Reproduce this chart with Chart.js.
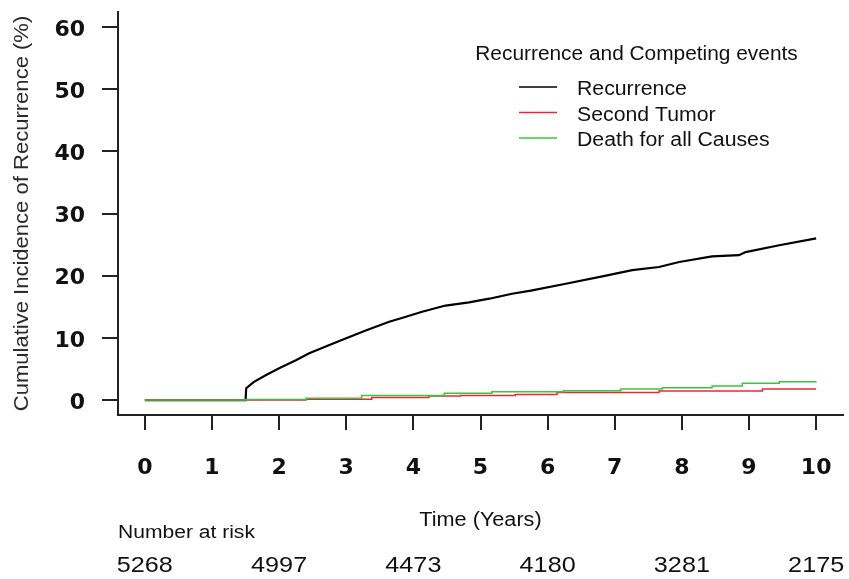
<!DOCTYPE html>
<html>
<head>
<meta charset="utf-8">
<script src="https://cdn.jsdelivr.net/npm/chart.js@4/dist/chart.umd.min.js"></script>
<style>
  html, body { margin: 0; padding: 0; background: #fff; }
  canvas { display: block; }
</style>
</head>
<body>
<canvas id="cif" width="849" height="579"></canvas>
<script>
// Cumulative incidence (%) by follow-up time (years)
const recurrenceTime  = [0, 1.5, 1.51, 1.62, 1.80, 2.00, 2.25, 2.44, 2.74, 2.99, 3.29, 3.64, 3.89, 4.13, 4.48, 4.83, 5.13, 5.47, 5.75, 6.27, 6.87, 7.26, 7.66, 7.96, 8.45, 8.85, 8.95, 9.45, 10.0];
const recurrenceValue = [0, 0, 1.9, 2.9, 4.0, 5.1, 6.4, 7.5, 8.8, 9.9, 11.2, 12.6, 13.4, 14.2, 15.2, 15.7, 16.3, 17.1, 17.6, 18.7, 20.0, 20.9, 21.4, 22.2, 23.1, 23.3, 23.8, 24.9, 26.0];

const secondTumorTime  = [0, 2.4, 3.38, 4.23, 4.7, 5.52, 6.14, 7.66, 9.2, 10.0];
const secondTumorValue = [0, 0.15, 0.4, 0.65, 0.75, 0.9, 1.2, 1.45, 1.8, 1.8];

const deathTime  = [0, 1.5, 2.4, 3.23, 4.46, 5.17, 6.24, 7.09, 7.71, 8.45, 8.9, 9.45, 10.0];
const deathValue = [0, 0.1, 0.3, 0.75, 1.1, 1.35, 1.5, 1.8, 2.0, 2.25, 2.7, 2.95, 3.0];

// Axis ticks
const xTicks = [0, 1, 2, 3, 4, 5, 6, 7, 8, 9, 10];
const yTicks = [0, 10, 20, 30, 40, 50, 60];

// Number at risk table
const riskTimes  = [0, 2, 4, 6, 8, 10];
const riskCounts = [5268, 4997, 4473, 4180, 3281, 2175];

const seriesNames = ['Recurrence', 'Second Tumor', 'Death for all Causes'];
const seriesColors = ['#000000', '#e8283a', '#3cc43c'];

const toPoints = (t, v) => t.map((x, i) => ({ x: x, y: v[i] }));

const FONT = '"Liberation Sans", Arial, sans-serif';
const TICK_FONT = '"DejaVu Sans", sans-serif';
const INK = '#111111';

// Draws text in Arial metrics, widened horizontally by `stretch`
function drawText(ctx, text, x, y, size, align, stretch, rotate) {
  ctx.save();
  ctx.font = size + 'px ' + FONT;
  ctx.textBaseline = 'alphabetic';
  ctx.textAlign = align;
  ctx.translate(x, y);
  if (rotate) ctx.rotate(rotate);
  ctx.scale(stretch, 1);
  ctx.fillText(text, 0, 0);
  ctx.restore();
}

const extras = {
  id: 'extras',
  afterDraw(chart) {
    const ctx = chart.ctx;
    const xs = chart.scales.x;
    const area = chart.chartArea;
    ctx.save();

    // y-axis title
    ctx.fillStyle = '#2a2a2a';
    drawText(ctx, 'Cumulative Incidence of Recurrence (%)', 28, (area.top + area.bottom) / 2, 19.5, 'center', 1.13, -Math.PI / 2);
    ctx.fillStyle = INK;

    // x-axis title
    drawText(ctx, 'Time (Years)', (area.left + area.right) / 2, 526, 19.5, 'center', 1.11);

    // number at risk
    drawText(ctx, 'Number at risk', 118, 538, 18, 'left', 1.17);
    riskTimes.forEach((t, i) => {
      drawText(ctx, String(riskCounts[i]), xs.getPixelForValue(t), 572, 22.5, 'center', 1.12);
    });

    // legend
    drawText(ctx, 'Recurrence and Competing events', 636.5, 60, 19.5, 'center', 1.07);
    seriesNames.forEach((name, i) => {
      const base = 95 + i * 25.5;
      ctx.strokeStyle = seriesColors[i];
      ctx.lineWidth = 1.5;
      ctx.beginPath();
      ctx.moveTo(519, base - 8);
      ctx.lineTo(557, base - 8);
      ctx.stroke();
      drawText(ctx, name, 577, base, 19.5, 'left', 1.09);
    });
    ctx.restore();
  }
};

new Chart(document.getElementById('cif'), {
  type: 'line',
  data: {
    datasets: [
      { label: seriesNames[0], data: toPoints(recurrenceTime, recurrenceValue), borderColor: seriesColors[0], borderWidth: 2.2, tension: 0, pointRadius: 0, order: 3 },
      { label: seriesNames[1], data: toPoints(secondTumorTime, secondTumorValue), borderColor: seriesColors[1], borderWidth: 1.5, stepped: true, pointRadius: 0, order: 2 },
      { label: seriesNames[2], data: toPoints(deathTime, deathValue), borderColor: seriesColors[2], borderWidth: 1.5, stepped: true, pointRadius: 0, order: 1 }
    ]
  },
  options: {
    responsive: false,
    animation: false,
    devicePixelRatio: 1,
    layout: { padding: { left: 0, right: 6, top: 12, bottom: 0 } },
    plugins: { legend: { display: false }, tooltip: { enabled: false } },
    scales: {
      x: {
        type: 'linear',
        min: -0.4,
        max: 10.4,
        afterBuildTicks: s => { s.ticks = xTicks.map(v => ({ value: v })); },
        afterFit: s => { s.height = 164; s.paddingLeft = 0; s.paddingRight = 0; },
        ticks: { color: INK, font: { size: 22, family: TICK_FONT, weight: 'bold', lineHeight: 1.0 }, padding: 27, maxRotation: 0 },
        grid: { drawOnChartArea: false, drawTicks: true, tickLength: 15, color: '#222', lineWidth: 2 },
        border: { display: true, color: '#222', width: 2 }
      },
      y: {
        type: 'linear',
        min: -2.4,
        max: 62.4,
        afterBuildTicks: s => { s.ticks = yTicks.map(v => ({ value: v })); },
        afterFit: s => { s.width = 118; s.paddingTop = 0; s.paddingBottom = 0; },
        ticks: { color: INK, font: { size: 22, family: TICK_FONT, weight: 'bold', lineHeight: 1.0 }, padding: 17, labelOffset: 3 },
        grid: { drawOnChartArea: false, drawTicks: true, tickLength: 16, color: '#222', lineWidth: 2 },
        border: { display: true, color: '#222', width: 2 }
      }
    }
  },
  plugins: [extras]
});
</script>
</body>
</html>
